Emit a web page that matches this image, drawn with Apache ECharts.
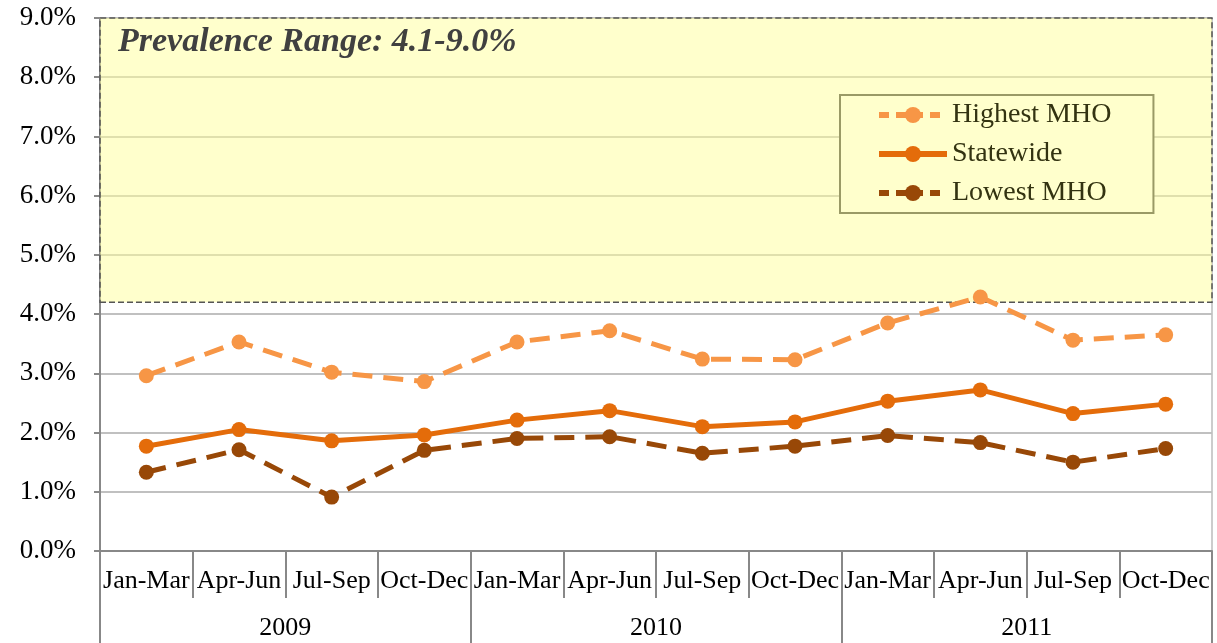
<!DOCTYPE html>
<html>
<head>
<meta charset="utf-8">
<script src="https://cdn.jsdelivr.net/npm/echarts@6/dist/echarts.min.js"></script>
<style>
  html, body { margin: 0; padding: 0; background: #fff; }
  #chart { width: 1217px; height: 643px; }
</style>
</head>
<body>
<div id="chart"></div>
<script>
// quarters and years for the two-level x axis
var quarters = ["Jan-Mar", "Apr-Jun", "Jul-Sep", "Oct-Dec",
                "Jan-Mar", "Apr-Jun", "Jul-Sep", "Oct-Dec",
                "Jan-Mar", "Apr-Jun", "Jul-Sep", "Oct-Dec"];
var years = ["2009", "2010", "2011"];

// prevalence (%)
var highestMHO = [2.96, 3.53, 3.02, 2.86, 3.53, 3.72, 3.24, 3.23, 3.85, 4.29, 3.56, 3.65];
var statewide  = [1.77, 2.05, 1.86, 1.96, 2.21, 2.37, 2.10, 2.18, 2.53, 2.72, 2.32, 2.48];
var lowestMHO  = [1.33, 1.71, 0.91, 1.70, 1.90, 1.93, 1.65, 1.77, 1.95, 1.83, 1.50, 1.73];

var rangeLow = 4.2, rangeHigh = 9.0;
var rangeText = "Prevalence Range: 4.1-9.0%";

var serif = "Liberation Serif";
var colHigh = "#F79646", colState = "#E46C0A", colLow = "#984807";
var dash = [20, 11];

var chart = echarts.init(document.getElementById("chart"));

chart.setOption({
  backgroundColor: "#fff",
  animation: false,
  textStyle: { fontFamily: serif },
  title: {
    text: rangeText,
    left: 113, top: 20,
    textStyle: { fontFamily: serif, fontSize: 34, fontStyle: "italic", fontWeight: "bold", color: "#404040" }
  },
  grid: {
    left: 100, right: 5, top: 18, bottom: 92,
    show: true, borderColor: "#999", borderWidth: 1, backgroundColor: "transparent"
  },
  legend: {
    orient: "vertical",
    left: 840, top: 95,
    padding: [4, 42, 4, 36],
    itemGap: 7,
    itemWidth: 68, itemHeight: 20,
    backgroundColor: "#FFFFCC",
    borderColor: "#9a9a66", borderWidth: 2,
    textStyle: { fontFamily: serif, fontSize: 28, lineHeight: 32, color: "#333311" },
    data: [
      { name: "Highest MHO", lineStyle: { width: 6, type: [10, 7] } },
      { name: "Statewide", lineStyle: { width: 6 } },
      { name: "Lowest MHO", lineStyle: { width: 6, type: [10, 7] } }
    ]
  },
  xAxis: [
    {
      type: "category",
      data: quarters,
      boundaryGap: true,
      axisLine: { lineStyle: { color: "#888", width: 2 } },
      axisTick: { show: true, interval: 0, length: 47, lineStyle: { color: "#888", width: 2 } },
      axisLabel: { interval: 0, fontFamily: serif, fontSize: 26, color: "#000", margin: 17 }
    },
    {
      type: "category",
      data: years,
      position: "bottom",
      offset: 47,
      boundaryGap: true,
      axisLine: { show: false },
      axisTick: { show: true, interval: 0, length: 46, lineStyle: { color: "#888", width: 2 } },
      axisLabel: { fontFamily: serif, fontSize: 26, color: "#000", margin: 17 }
    }
  ],
  yAxis: {
    type: "value",
    min: 0, max: 9, interval: 1,
    axisLine: { show: true, lineStyle: { color: "#888", width: 2 } },
    axisTick: { show: true, length: 6, lineStyle: { color: "#888", width: 2 } },
    axisLabel: {
      fontFamily: serif, fontSize: 27, color: "#000", margin: 24,
      formatter: function (v) { return v.toFixed(1) + "%"; }
    },
    splitLine: { lineStyle: { color: "#c0c0c0", width: 2 } }
  },
  series: [
    {
      name: "Highest MHO",
      type: "line",
      data: highestMHO,
      symbol: "circle", symbolSize: 15,
      itemStyle: { color: colHigh },
      lineStyle: { color: colHigh, width: 5, type: dash },
      z: 3,
      markArea: {
        silent: true,
        itemStyle: {
          color: "rgba(255,255,153,0.5)",
          borderColor: "#555", borderWidth: 1.5, borderType: "dashed"
        },
        label: { show: false },
        data: [[{ yAxis: rangeLow }, { yAxis: rangeHigh }]]
      }
    },
    {
      name: "Statewide",
      type: "line",
      data: statewide,
      symbol: "circle", symbolSize: 15,
      itemStyle: { color: colState },
      lineStyle: { color: colState, width: 5 },
      z: 4
    },
    {
      name: "Lowest MHO",
      type: "line",
      data: lowestMHO,
      symbol: "circle", symbolSize: 15,
      itemStyle: { color: colLow },
      lineStyle: { color: colLow, width: 5, type: dash },
      z: 3
    }
  ]
});
</script>
</body>
</html>
